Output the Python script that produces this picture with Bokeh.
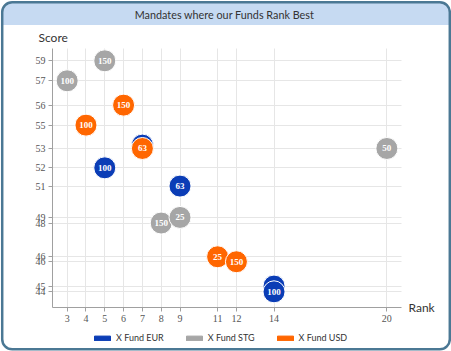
from bokeh.plotting import figure
from bokeh.models import (Range1d, FixedTicker, NumeralTickFormatter, Label, BoxAnnotation,
                          Legend, LegendItem, ColumnDataSource)
from bokeh.core.properties import value
from bokeh.embed import file_html
from bokeh.resources import INLINE

title = "Mandates where our Funds Rank Best"
series = ["X Fund EUR", "X Fund STG", "X Fund USD"]
colors = ["#0b3db6", "#a6a6a6", "#ff6600"]

eur_rank = [5, 7, 9, 14, 14]
eur_score = [51.91, 53.33, 50.77, 44.52, 44.16]
eur_label = ["100", "", "63", "", "100"]

stg_rank = [3, 5, 8, 9, 20]
stg_score = [57.35, 58.6, 48.46, 48.81, 53.12]
stg_label = ["100", "150", "150", "25", "50"]

usd_rank = [4, 6, 7, 11, 12]
usd_score = [54.58, 55.83, 53.12, 46.35, 46.04]
usd_label = ["100", "150", "63", "25", "150"]

x_ticks = [3, 4, 5, 6, 7, 8, 9, 11, 12, 14, 20]
y_ticks = [58.6, 57.35, 55.83, 54.58, 53.12, 51.91, 50.77, 48.81, 48.46, 46.35, 46.04, 44.52, 44.16]

# axis extents (plot area) and the full canvas extents in data units
x_lo, x_hi = 2.22, 20.8
y_lo, y_hi = 43.18, 59.37

p = figure(width=451, height=351, output_backend="svg", toolbar_location=None,
           x_range=Range1d(-0.545, 23.437), y_range=Range1d(40.43, 62.37),
           min_border=0, min_border_left=0, min_border_right=0, min_border_top=0, min_border_bottom=0)
p.background_fill_color = "white"
p.border_fill_color = "white"
p.outline_line_color = None

p.xaxis.fixed_location = y_lo
p.yaxis.fixed_location = x_lo
p.xaxis.bounds = (x_lo, x_hi)
p.yaxis.bounds = (y_lo, y_hi)
for ax in (p.xaxis[0], p.yaxis[0]):
    ax.axis_line_color = "#a0a0a0"
    ax.major_tick_line_color = "#a0a0a0"
    ax.minor_tick_line_color = None
    ax.major_tick_out = 4
    ax.major_tick_in = 0
    ax.major_label_text_font = "Liberation Serif"
    ax.major_label_text_font_size = "10px"
    ax.major_label_text_color = "#555555"
    ax.major_label_standoff = 3
p.xaxis.ticker = FixedTicker(ticks=x_ticks)
p.yaxis.ticker = FixedTicker(ticks=y_ticks)
p.yaxis.formatter = NumeralTickFormatter(format="0")

xg, yg = p.xgrid[0], p.ygrid[0]
if hasattr(xg, "cross_bounds"):
    xg.ticker = FixedTicker(ticks=x_ticks)
    yg.ticker = FixedTicker(ticks=y_ticks)
    xg.bounds = (x_lo, x_hi)
    yg.bounds = (y_lo, y_hi)
    xg.cross_bounds = (y_lo, y_hi)
    yg.cross_bounds = (x_lo, x_hi)
    xg.grid_line_color = "#e6e6e6"
    yg.grid_line_color = "#e6e6e6"
else:
    xg.visible = False
    yg.visible = False
    p.segment(x0=x_ticks, x1=x_ticks, y0=[y_lo] * len(x_ticks), y1=[y_hi] * len(x_ticks),
              line_color="#e6e6e6", level="underlay")
    p.segment(x0=[x_lo] * len(y_ticks), x1=[x_hi] * len(y_ticks), y0=y_ticks, y1=y_ticks,
              line_color="#e6e6e6", level="underlay")

data = [(eur_rank, eur_score, eur_label), (stg_rank, stg_score, stg_label), (usd_rank, usd_score, usd_label)]
for (xs, ys, ls), c in zip(data, colors):
    src = ColumnDataSource(dict(x=xs, y=ys, t=ls))
    p.scatter("x", "y", source=src, size=22, fill_color=c, line_color="white", line_width=1)
    p.text("x", "y", text="t", source=src, text_color="white", text_font=value("Liberation Serif"),
           text_font_style="bold", text_font_size="9px", text_align="center", text_baseline="middle")

# legend with rectangular swatches (renderers hold no visible data)
nan = float("nan")
items = []
for name, c in zip(series, colors):
    r = p.quad(left=[nan], right=[nan], top=[nan], bottom=[nan], fill_color=c, line_color=c)
    items.append(LegendItem(label=name, renderers=[r]))
legend = Legend(items=items, orientation="horizontal", location=(92, 8),
                glyph_width=20, glyph_height=6, label_text_font="Lato",
                label_text_font_size="9px", label_text_color="#333333", spacing=20,
                padding=0, margin=0, border_line_color=None, background_fill_alpha=0,
                label_standoff=4, label_height=8)
p.add_layout(legend, "center")

# frame and header
p.add_layout(BoxAnnotation(left=2.5, right=448.5, top=2.5, bottom=24.5, left_units="canvas", right_units="canvas",
                           top_units="canvas", bottom_units="canvas", fill_color="#c6daf2", fill_alpha=1,
                           line_color=None, border_radius=(9, 9, 0, 0), level="underlay"))
p.add_layout(BoxAnnotation(left=1.7, right=449.3, top=1.7, bottom=348.8, left_units="canvas", right_units="canvas",
                           top_units="canvas", bottom_units="canvas", fill_alpha=0,
                           line_color="#4b7894", line_alpha=1, line_width=2.5, border_radius=10, level="overlay"))

p.add_layout(Label(x=224, y=13.5, x_units="canvas", y_units="canvas", text=title, text_align="center",
                   text_baseline="middle", text_font="Lato", text_font_size="10.8px", text_color="#333333"))
p.add_layout(Label(x=38, y=37, x_units="canvas", y_units="canvas", text="Score", text_align="left",
                   text_baseline="middle", text_font="Lato", text_font_size="12px", text_color="#333333"))
p.add_layout(Label(x=408, y=307, x_units="canvas", y_units="canvas", text="Rank", text_align="left",
                   text_baseline="middle", text_font="Lato", text_font_size="12px", text_color="#333333"))

open("out.html", "w").write(file_html(p, INLINE))
